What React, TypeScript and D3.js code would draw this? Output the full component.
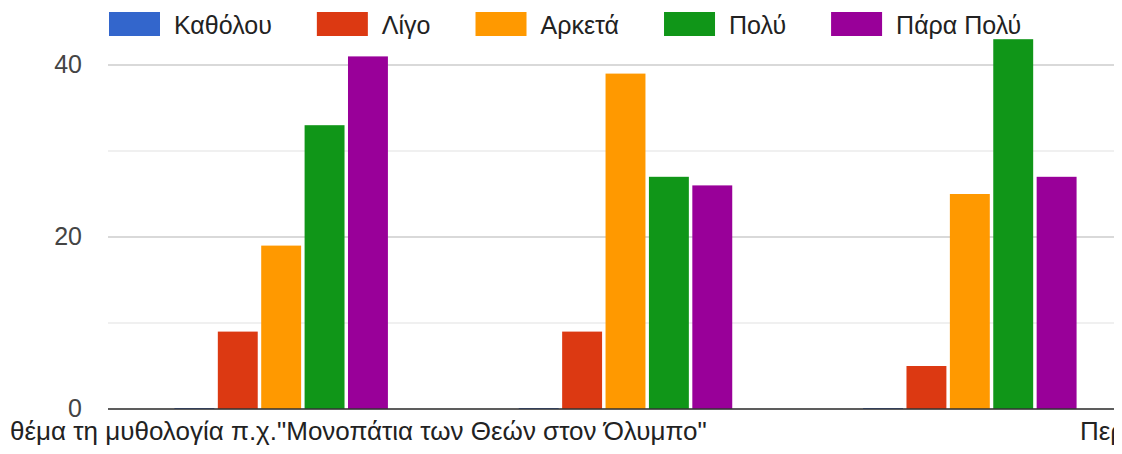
import React from 'react';
import * as d3 from 'd3';

// series / categories
const seriesNames = ['Καθόλου', 'Λίγο', 'Αρκετά', 'Πολύ', 'Πάρα Πολύ'];
const seriesColors = ['#3366cc', '#dc3912', '#ff9900', '#109618', '#990099'];
const groups = ['g1', 'g2', 'g3'];
const groupLabels = [
  'θέμα τη μυθολογία π.χ."Μονοπάτια των Θεών στον Όλυμπο"',
  '',
  'Περ',
];
const katholou = [0, 0, 0];
const ligo = [9, 9, 5];
const arketa = [19, 39, 25];
const poly = [33, 27, 43];
const paraPoly = [41, 26, 27];
const yTicks = [0, 10, 20, 30, 40];
const yLabelTicks = [0, 20, 40];

const values = [katholou, ligo, arketa, poly, paraPoly];

const W = 1122;
const H = 454;
const FONT = "'Liberation Sans', Arial, sans-serif";

function textWidth(s: string, size: number) {
  const c = document.createElement('canvas').getContext('2d');
  if (!c) return s.length * size * 0.55;
  c.font = `${size}px ${FONT}`;
  return c.measureText(s).width;
}

export default function App() {
  const left = 108;
  const right = 1114;
  const baseY = 409;

  const x0 = d3.scaleBand().domain(groups).range([109, 1142]).paddingInner(0.38).paddingOuter(0.19);
  const x1 = d3.scaleBand().domain(seriesNames).range([0, x0.bandwidth()]).paddingInner(0.08);
  const y = d3.scaleLinear().domain([0, 40]).range([baseY, 65]);

  // legend layout
  let lx = 109;
  const legend = seriesNames.map((n, i) => {
    const item = { name: n, color: seriesColors[i], x: lx };
    lx += 51 + 14 + textWidth(n, 25) + 45;
    return item;
  });

  return (
    <svg width={W} height={H} style={{ position: 'absolute', left: 0, top: 0 }} fontFamily={FONT}>
      <rect width={W} height={H} fill="#fff" />
      <defs>
        <clipPath id="plot">
          <rect x={left} y={0} width={right - left} height={baseY + 1} />
        </clipPath>
        <clipPath id="lab">
          <rect x={0} y={410} width={right} height={44} />
        </clipPath>
      </defs>

      {legend.map((l) => (
        <g key={l.name}>
          <rect x={l.x} y={12} width={51} height={24} fill={l.color} />
          <text x={l.x + 65} y={34} fontSize={25} fill="#222">{l.name}</text>
        </g>
      ))}

      {yTicks.map((t) => (
        <line key={t} x1={left} x2={right} y1={y(t)} y2={y(t)}
          stroke={t % 20 === 0 ? '#cccccc' : '#ebebeb'} strokeWidth={1.5} />
      ))}
      {yLabelTicks.map((t) => (
        <text key={t} x={82} y={y(t) + 8} textAnchor="end" fontSize={25} fill="#444">{t}</text>
      ))}

      <g clipPath="url(#plot)">
        {groups.map((g, gi) => (
          <g key={g} transform={`translate(${x0(g)},0)`}>
            {seriesNames.map((s, si) => {
              const v = values[si][gi];
              return (
                <rect key={s} x={x1(s)} y={y(v) - (v === 0 ? 1 : 0)} width={x1.bandwidth()}
                  height={Math.max(baseY - y(v), 1)} fill={seriesColors[si]} />
              );
            })}
          </g>
        ))}
      </g>

      <line x1={left} x2={right} y1={baseY} y2={baseY} stroke="#333" strokeWidth={1.5} />

      <g clipPath="url(#lab)">
        <text x={10} y={440} fontSize={26} fill="#222">{groupLabels[0]}</text>
        <text x={1080} y={440} fontSize={26} fill="#222">{groupLabels[2]}</text>
      </g>
    </svg>
  );
}
